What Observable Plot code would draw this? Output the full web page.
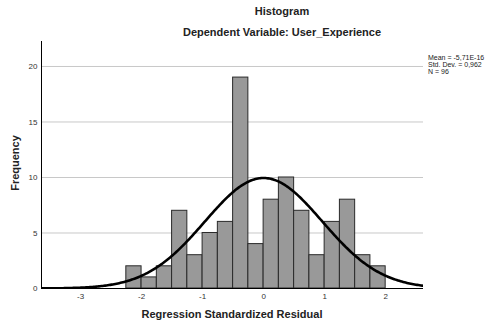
<!DOCTYPE html>
<html><head><meta charset="utf-8">
<script src="https://cdn.jsdelivr.net/npm/d3@7"></script>
<script src="https://cdn.jsdelivr.net/npm/@observablehq/plot@0.6"></script>
<style>
body{margin:0;background:#fff;font-family:Arial,"Liberation Sans",sans-serif;}
#wrap{position:relative;width:491px;height:331px;}
.t{position:absolute;white-space:nowrap;color:#222;}
</style></head><body>
<div id="wrap"></div>
<script>
const binStarts = [-2.25,-2.0,-1.75,-1.5,-1.25,-1.0,-0.75,-0.5,-0.25,0.0,0.25,0.5,0.75,1.0,1.25,1.5,1.75];
const binWidth = 0.25;
const counts = [2,1,2,7,3,5,6,19,4,8,10,7,3,6,8,3,2];
const stats = {mean: -5.71e-16, sd: 0.962, n: 96};
const xTicks = [-3,-2,-1,0,1,2];
const yTicks = [0,5,10,15,20];
const xDomain = [-3.64, 2.62];
const yDomain = [0, 22.25];

const bars = binStarts.map((s,i)=>({x1:s, x2:s+binWidth, y:counts[i]}));
const curve = d3.range(0, 301).map(i=>{
  const x = xDomain[0] + (xDomain[1]-xDomain[0])*i/300;
  const z = (x-stats.mean)/stats.sd;
  return {x, y: stats.n*binWidth/(stats.sd*Math.sqrt(2*Math.PI))*Math.exp(-0.5*z*z)};
});

const chart = Plot.plot({
  width: 491, height: 331,
  marginLeft: 41, marginRight: 68, marginTop: 41, marginBottom: 43,
  style: {fontFamily: 'Arial, "Liberation Sans", sans-serif', fontSize: "8px", color: "#333", background: "#fff"},
  x: {domain: xDomain, label: null},
  y: {domain: yDomain, label: null},
  marks: [
    Plot.gridY(yTicks.filter(d=>d>0), {stroke: "#c8c8c8", strokeOpacity: 1}),
    Plot.rectY(bars, {x1:"x1", x2:"x2", y1:0, y2:"y", fill:"#999999", stroke:"#2a2a2a", strokeWidth:1, inset:0}),
    Plot.line(curve, {x:"x", y:"y", stroke:"#000", strokeWidth:2.6, clip:true}),
    Plot.ruleY([0], {stroke:"#000", strokeWidth:1}),
    Plot.ruleX([xDomain[0]], {stroke:"#000", strokeWidth:1}),
    Plot.axisX({ticks: xTicks, tickSize: 0, tickPadding: 5, tickFormat: d=>String(d)}),
    Plot.axisY({ticks: yTicks, tickSize: 0, tickPadding: 4})
  ]
});
const wrap = document.getElementById("wrap");
wrap.appendChild(chart);

function addText(txt, css){ const d=document.createElement("div"); d.className="t"; d.textContent=txt; Object.assign(d.style, css); wrap.appendChild(d); }
addText("Histogram", {left:"0", width:"564px", textAlign:"center", top:"5px", fontSize:"11px", fontWeight:"bold"});
addText("Dependent Variable: User_Experience", {left:"0", width:"564px", textAlign:"center", top:"26px", fontSize:"11px", fontWeight:"bold"});
addText("Regression Standardized Residual", {left:"0", width:"464px", textAlign:"center", top:"308px", fontSize:"11px", fontWeight:"bold"});
addText("Frequency", {left:"15px", top:"163px", fontSize:"11px", fontWeight:"bold", transform:"translate(-50%,-50%) rotate(-90deg)"});
addText("Mean = -5,71E-16", {left:"428px", top:"54px", fontSize:"7px", lineHeight:"7px"});
addText("Std. Dev. = 0,962", {left:"428px", top:"61px", fontSize:"7px", lineHeight:"7px"});
addText("N = " + stats.n, {left:"428px", top:"68px", fontSize:"7px", lineHeight:"7px"});
</script>
</body></html>
